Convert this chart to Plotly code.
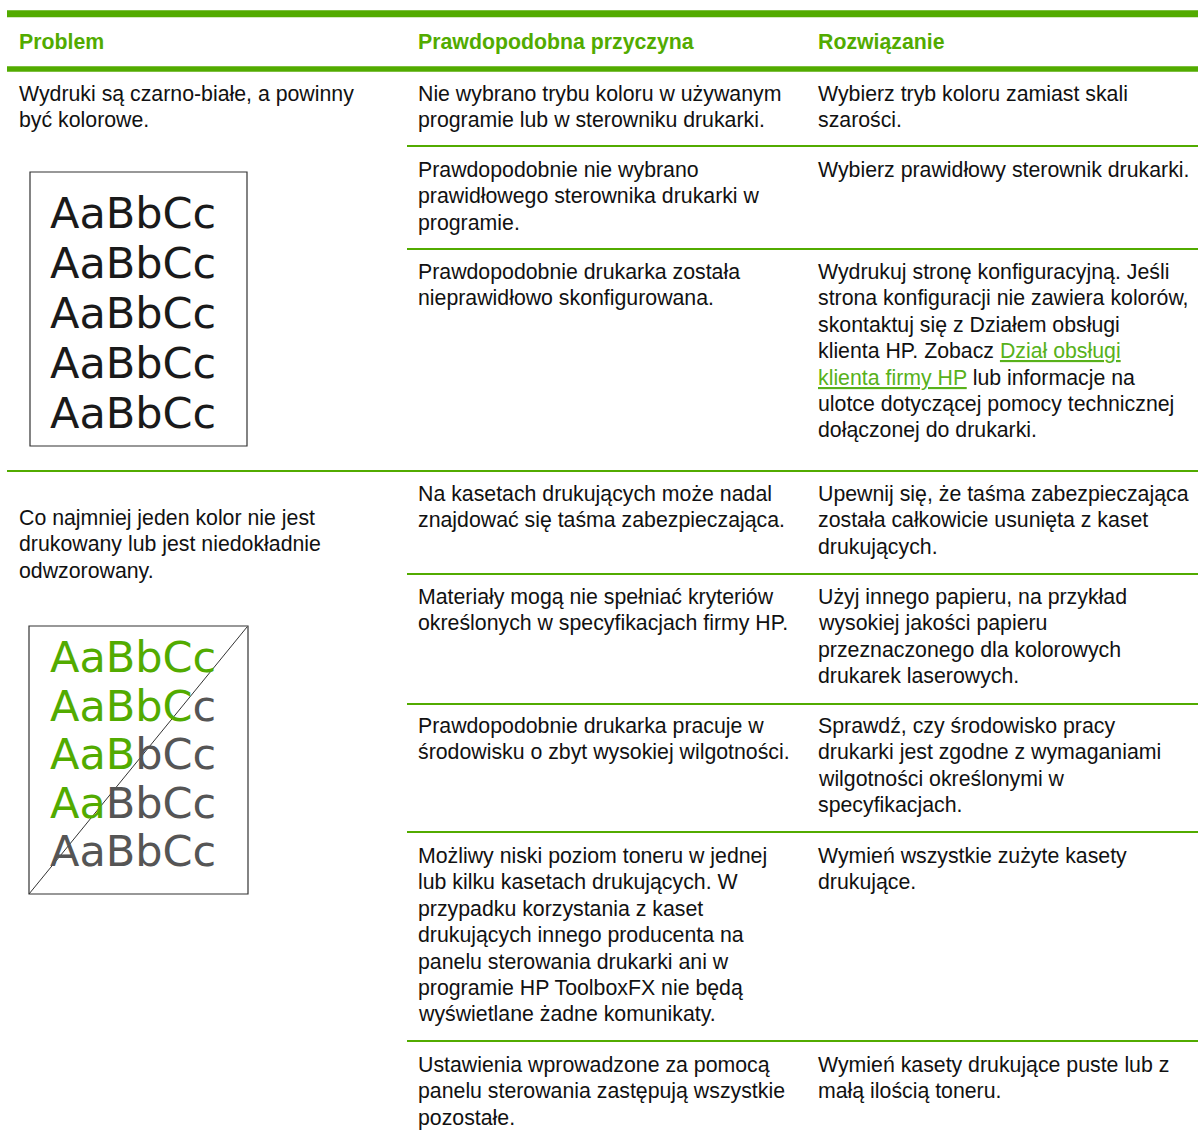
import plotly.graph_objects as go

# ---------------- data (table content) ----------------
header_labels = ["Problem", "Prawdopodobna przyczyna", "Rozwiązanie"]

problem_1 = ["Wydruki są czarno-białe, a powinny", "być kolorowe."]
problem_2 = ["Co najmniej jeden kolor nie jest", "drukowany lub jest niedokładnie", "odwzorowany."]

causes = [
    ["Nie wybrano trybu koloru w używanym", "programie lub w sterowniku drukarki."],
    ["Prawdopodobnie nie wybrano", "prawidłowego sterownika drukarki w", "programie."],
    ["Prawdopodobnie drukarka została", "nieprawidłowo skonfigurowana."],
    ["Na kasetach drukujących może nadal", "znajdować się taśma zabezpieczająca."],
    ["Materiały mogą nie spełniać kryteriów", "określonych w specyfikacjach firmy HP."],
    ["Prawdopodobnie drukarka pracuje w", "środowisku o zbyt wysokiej wilgotności."],
    ["Możliwy niski poziom toneru w jednej", "lub kilku kasetach drukujących. W",
     "przypadku korzystania z kaset", "drukujących innego producenta na",
     "panelu sterowania drukarki ani w", "programie HP ToolboxFX nie będą",
     "wyświetlane żadne komunikaty."],
    ["Ustawienia wprowadzone za pomocą", "panelu sterowania zastępują wszystkie", "pozostałe."],
]

solutions = [
    ["Wybierz tryb koloru zamiast skali", "szarości."],
    ["Wybierz prawidłowy sterownik drukarki."],
    ["Wydrukuj stronę konfiguracyjną. Jeśli", "strona konfiguracji nie zawiera kolorów,",
     "skontaktuj się z Działem obsługi", "klienta HP. Zobacz <LINK>Dział obsługi</LINK>",
     "<LINK>klienta firmy HP</LINK> lub informacje na", "ulotce dotyczącej pomocy technicznej",
     "dołączonej do drukarki."],
    ["Upewnij się, że taśma zabezpieczająca", "została całkowicie usunięta z kaset", "drukujących."],
    ["Użyj innego papieru, na przykład", "wysokiej jakości papieru",
     "przeznaczonego dla kolorowych", "drukarek laserowych."],
    ["Sprawdź, czy środowisko pracy", "drukarki jest zgodne z wymaganiami",
     "wilgotności określonymi w", "specyfikacjach."],
    ["Wymień wszystkie zużyte kasety", "drukujące."],
    ["Wymień kasety drukujące puste lub z", "małą ilością toneru."],
]

sample_text = "AaBbCc"
sample_rows = 5

# ---------------- styling / layout ----------------
W, H = 1198, 1136
GREEN = "#52AB00"
LINK_GREEN = "#58B11A"
TEXT = "#111111"
GRAY = "#555555"
FONT = "Liberation Sans, Arial, sans-serif"
FS = 21.3
LH = 26.4

col_x = [17, 416, 816]
sep_y = [146, 249, 471, 574, 704, 832, 1041]       # row separators
sep_full = [False, False, True, False, False, False, False]
sub_first_y = [94, 170, 272, 494, 597, 726, 856, 1065]
problem_first_y = [94, 518]

fig = go.Figure()
fig.add_trace(go.Scatter(x=[0, W], y=[0, H], mode="markers",
                         marker=dict(opacity=0), hoverinfo="skip"))

shapes = []
annotations = []

# header rules
shapes.append(dict(type="line", x0=7, x1=W, y0=13.8, y1=13.8,
                   line=dict(color=GREEN, width=7)))
shapes.append(dict(type="line", x0=7, x1=W, y0=69, y1=69,
                   line=dict(color=GREEN, width=5.5)))
for y, full in zip(sep_y, sep_full):
    shapes.append(dict(type="line", x0=7 if full else 407, x1=W, y0=y, y1=y,
                       line=dict(color=GREEN, width=2.2)))


def add_line(x, y, text, color=TEXT, size=FS, bold=False, family=FONT):
    if bold:
        text = "<b>" + text + "</b>"
    annotations.append(dict(x=x, y=y, xref="x", yref="y", text=text,
                            showarrow=False, xanchor="left", yanchor="middle",
                            font=dict(family=family, size=size, color=color)))


for x, lab in zip(col_x, header_labels):
    add_line(x, 41.5, lab, color=GREEN, bold=True)


def linkify(s):
    return (s.replace("<LINK>", "<span style='color:%s'><u>" % LINK_GREEN)
             .replace("</LINK>", "</u></span>"))


for lines, y0 in zip([problem_1, problem_2], problem_first_y):
    for i, ln in enumerate(lines):
        add_line(col_x[0], y0 + i * LH, ln)

for lines, y0 in zip(causes, sub_first_y):
    for i, ln in enumerate(lines):
        add_line(col_x[1], y0 + i * LH, ln)

for lines, y0 in zip(solutions, sub_first_y):
    for i, ln in enumerate(lines):
        add_line(col_x[2], y0 + i * LH, linkify(ln))

# sample print boxes
SFONT = "DejaVu Sans, sans-serif"
SFS = 43
box1 = (30, 172, 247, 446)
box2 = (29, 626, 248, 894)
for b in (box1, box2):
    shapes.append(dict(type="rect", x0=b[0], y0=b[1], x1=b[2], y1=b[3],
                       line=dict(color="#333333", width=1.2)))
shapes.append(dict(type="line", x0=box2[0], y0=box2[3], x1=box2[2] - 1, y1=box2[1] + 1,
                   line=dict(color="#333333", width=1)))

for i in range(sample_rows):
    add_line(48, 213 + i * 50, sample_text, color="#1a1a1a", size=SFS, family=SFONT)

# second sample: green left of diagonal, gray right
char_w = [30, 24, 28, 25, 34, 26]
for i in range(sample_rows):
    y = 657 + i * 48.5
    xd = box2[0] + (box2[3] - y) * (box2[2] - box2[0]) / (box2[3] - box2[1])
    x = 53
    parts = []
    for ch, w in zip(sample_text, char_w):
        c = GREEN if x + w / 2 < xd else GRAY
        parts.append("<span style='color:%s'>%s</span>" % (c, ch))
        x += w
    add_line(48, y, "".join(parts), color=GRAY, size=SFS, family=SFONT)

fig.update_layout(
    width=W, height=H, margin=dict(l=0, r=0, t=0, b=0),
    paper_bgcolor="white", plot_bgcolor="white", showlegend=False,
    xaxis=dict(range=[0, W], visible=False, fixedrange=True),
    yaxis=dict(range=[H, 0], visible=False, fixedrange=True),
    shapes=shapes, annotations=annotations,
)

fig.write_html("out.html", config={"displayModeBar": False},
               post_script="document.body.style.margin='0';document.body.style.overflow='hidden';")
